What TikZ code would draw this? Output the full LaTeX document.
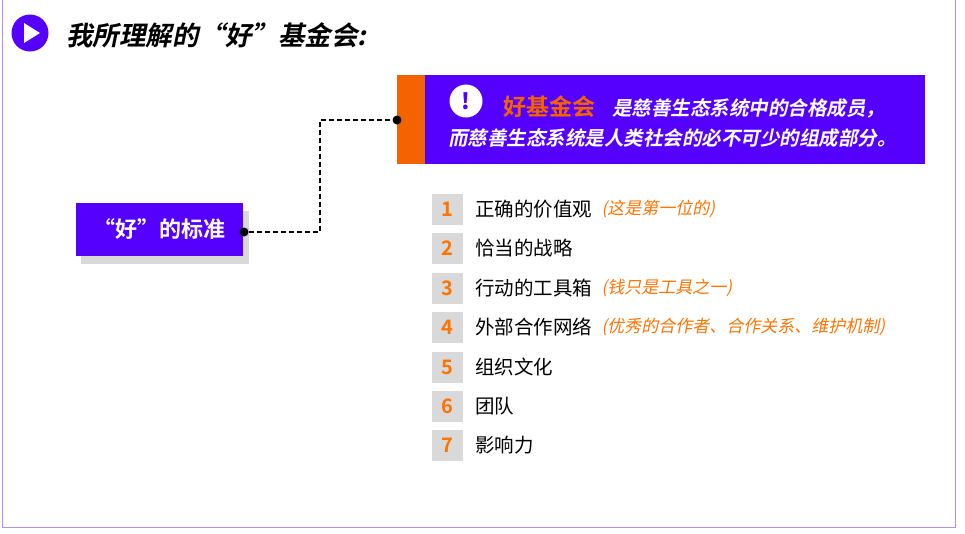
\documentclass[tikz,border=0pt]{standalone}
\usepackage{fontspec}
\setmainfont{Noto Sans CJK SC}
\newfontfamily\cjkb[FakeSlant=0.2]{Noto Sans CJK SC Bold}
\newfontfamily\cjkbu{Noto Sans CJK SC Bold}
\newfontfamily\cjki[FakeSlant=0.2]{Noto Sans CJK SC}
\begin{document}
\begin{tikzpicture}[x=1pt,y=-1pt,
  sq/.style={fill=black!15,minimum size=31pt,inner sep=0pt,text=orange!90!red,font=\cjkbu\fontsize{20}{20}\selectfont},
  itm/.style={anchor=west,font=\fontsize{19.5}{19.5}\selectfont,inner sep=0pt},
  note/.style={anchor=west,font=\cjki\fontsize{17}{17}\selectfont,text=orange!90!red,inner sep=0pt},
  dot/.style={circle,fill=black,inner sep=0pt,minimum size=9pt}]
\useasboundingbox (0,0) rectangle (965,533);
\definecolor{pur}{HTML}{5500FF}
\definecolor{org}{HTML}{F56200}
\draw[pur!45,line width=1pt] (2,-5) -- (2,527) -- (955,527) -- (955,-5);
\node[circle,fill=pur,minimum size=37pt,inner sep=0pt] (play) at (30,33) {};
\fill[white] (24,23) -- (40,33) -- (24,43) -- cycle;
\node[anchor=west,font=\cjkb\fontsize{26.5}{26.5}\selectfont,inner sep=0pt] (title) at (66,35) {我所理解的“好”基金会:};
% main box
\fill[org] (397,75) rectangle (425,164);
\fill[pur] (425,75) rectangle (925,164);
\node[circle,fill=white,minimum size=33pt,inner sep=0pt,text=pur,font=\bfseries\fontsize{22}{22}\selectfont] (ex) at (466,101) {!};
\node[anchor=west,inner sep=0pt,text=org,font=\cjkbu\fontsize{23}{23}\selectfont] (hj) at (503,107) {好基金会};
\node[anchor=west,inner sep=0pt,text=white,font=\cjkb\fontsize{19.5}{19.5}\selectfont] (l1) at (612,108) {是慈善生态系统中的合格成员，};
\node[anchor=west,inner sep=0pt,text=white,font=\cjkb\fontsize{19.5}{19.5}\selectfont] (l2) at (448,138) {而慈善生态系统是人类社会的必不可少的组成部分。};
% left box
\fill[black!15] (81,211) rectangle (249,264);
\node[fill=pur,minimum width=167pt,minimum height=53pt,inner sep=0pt,text=white,font=\cjkbu\fontsize{22}{22}\selectfont] (std) at (159.5,229.5) {“好”的标准};
\node[dot] (d1) at (244,232) {};
\node[dot] (d2) at (397,120) {};
\draw[dash pattern=on 5pt off 3pt,line width=1.3pt] (d1) -- (320,232) -- (320,120) -- (d2);
% items
\foreach \n/\y/\t in {1/209/正确的价值观,2/248/恰当的战略,3/288/行动的工具箱,4/327/外部合作网络,5/367/组织文化,6/406/团队,7/445/影响力}{
  \node[sq] (s\n) at (447,\y) {\n};
  \node[itm] (t\n) at (475,\y) {\t};
}
\node[note] (n1) at ([xshift=9pt]t1.east) {(这是第一位的)};
\node[note] (n3) at ([xshift=9pt]t3.east) {(钱只是工具之一)};
\node[note] (n4) at ([xshift=9pt]t4.east) {(优秀的合作者、合作关系、维护机制)};
\end{tikzpicture}
\end{document}
